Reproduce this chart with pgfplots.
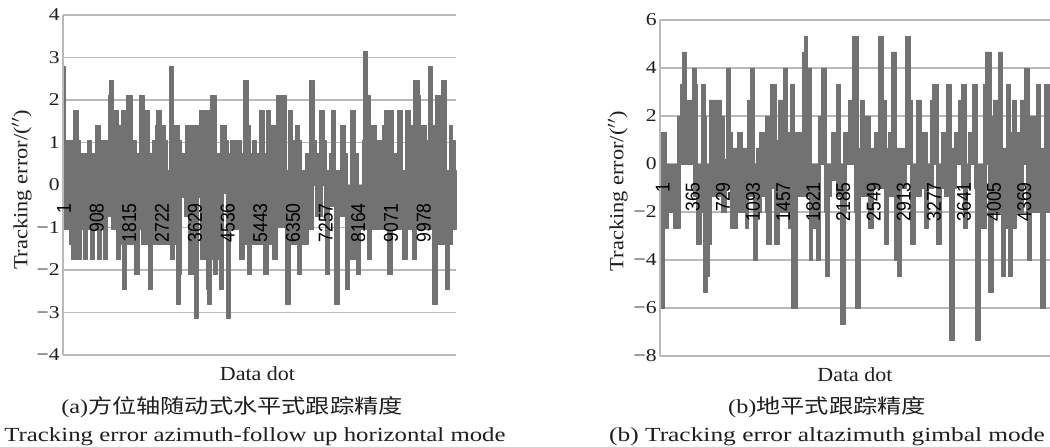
\documentclass[border=0pt]{standalone}
\usepackage{pgfplots}
\pgfplotsset{compat=1.18}
\usepackage{graphicx}
\usepackage{fontspec}
\setmainfont{Liberation Serif}
\newfontfamily\cjk{Noto Sans CJK SC}
\newfontfamily\lblf{Liberation Sans}
\definecolor{dat}{HTML}{727272}
\definecolor{grd}{HTML}{B9B9B9}
\definecolor{txt}{HTML}{1E1E1E}
\newcommand{\yl}[1]{\scalebox{1.2}[1]{#1}}
\newcommand{\xl}[1]{\scalebox{.88}[1]{#1}}
\pgfplotsset{
  panel/.style={
    scale only axis,
    axis y line=left,
    axis x line=middle,
    x axis line style={draw=none,-},
    y axis line style={draw=grd,line width=1.3pt,-},
    ymajorgrids,
    grid style={draw=grd,line width=1.3pt},
    xtick=\empty,
    ytick style={draw=none},
    yticklabel style={font=\fontsize{18}{18}\selectfont,text=txt,inner sep=1pt},
    xlabel style={font=\fontsize{20}{20}\selectfont,text=txt,anchor=center},
    ylabel style={font=\fontsize{20}{20}\selectfont,text=txt,rotate=0},
    xlabel={\scalebox{1.1}[1]{Data dot}},
    ylabel={\scalebox{1.12}[1]{Tracking error/($''$)}},
    clip=false
  },
  overlay/.style={
    scale only axis,
    axis y line=none,
    axis x line=middle,
    x axis line style={draw=none,-},
    xtick style={draw=none},
    ytick=\empty,
    xticklabel style={rotate=90,anchor=east,font=\lblf\fontsize{20}{20}\selectfont,text=black,xshift=-16pt,inner sep=0pt},
    clip=false
  },
  wave/.style={const plot mark left,draw=dat,fill=dat,line width=0.8pt,line join=round,line cap=round}
}
\begin{document}
\begin{tikzpicture}[x=1pt,y=1pt]
\path[use as bounding box] (0,0) rectangle (1050,447);
\begin{axis}[panel,at={(63pt,92pt)},anchor=south west,width=393pt,height=340pt,
  xmin=189,xmax=1368,ymin=-4,ymax=4,
  ytick={-4,-3,-2,-1,0,1,2,3,4},
  yticklabels={\yl{−4},\yl{−3},\yl{−2},\yl{−1},\yl{0},\yl{1},\yl{2},\yl{3},\yl{4}},
  xlabel style={at={(axis description cs:0.495,-0.056)}},
  ylabel style={at={(axis description cs:-0.105,0.485)},anchor=center}]
\addplot[wave] coordinates {(192,2.8)(197,1.05)(220,1.75)(235,1.05)(240,.75)(262,1.05)(275,.75)(285,1.4)(300,1.05)(325,2.1)(328,2.45)(340,1.75)(355,1.4)(360,1.05)(365,1.75)(378,2.1)(397,1.05)(408,.75)(418,2.1)(433,1.75)(447,.75)(457,1.05)(465,1.4)(470,1.75)(483,1.4)(497,1.05)(502,.35)(507,2.8)(520,1.4)(537,1.05)(543,.75)(557,1.4)(597,1.75)(632,2.1)(650,.75)(662,1.4)(680,1.05)(685,.75)(692,1.05)(725,.75)(730,2.45)(746,1.4)(752,.75)(758,1.05)(768,.75)(778,1.75)(793,.75)(798,1.75)(810,1.4)(825,0)(830,2.1)(858,.35)(865,1.75)(876,1.05)(885,1.4)(898,1.05)(903,.35)(915,.75)(928,2.45)(942,1.05)(950,.75)(958,1.75)(973,1.05)(980,.35)(988,.75)(993,1.75)(1006,.35)(1020,1.4)(1035,.75)(1042,0)(1052,1.75)(1067,.75)(1075,0)(1087,1.05)(1090,3.15)(1103,2.1)(1110,0)(1115,1.4)(1130,1.05)(1148,1.4)(1153,1.75)(1180,.75)(1190,.35)(1193,1.75)(1207,.35)(1217,1.75)(1232,1.4)(1240,2.45)(1257,2.1)(1262,1.4)(1280,1.05)(1285,2.8)(1297,1.4)(1307,2.1)(1320,1.4)(1325,2.45)(1340,.35)(1347,1.4)(1357,1.05)(1367,.35)(1368,.35)} \closedcycle;
\addplot[wave] coordinates {(192,-1.05)(208,-1.4)(215,-1.75)(243,-1.05)(250,-1.75)(262,-1.05)(270,-1.75)(283,-1.05)(292,-1.75)(303,-1.05)(310,-1.75)(322,-.75)(333,-1.05)(345,-.75)(348,-1.75)(362,-1.4)(367,-2.45)(380,-1.4)(403,-2.1)(418,-1.05)(425,-1.4)(446,-2.45)(458,-1.4)(510,-1.75)(522,-1.4)(528,-2.8)(541,-2.1)(545,-.3)(552,-.75)(565,-2.1)(582,-3.15)(595,-.3)(600,-1.75)(620,-2.45)(623,-2.8)(635,-1.75)(640,-2.1)(652,-1.75)(658,-2.45)(670,-.2)(680,-3.15)(692,-1.05)(718,-1.75)(732,-1.4)(742,-2.1)(753,-1.4)(790,-2.1)(805,-1.4)(810,0)(814,-1.4)(817,-1.75)(832,-1)(838,0)(842,-1)(855,-2.8)(870,-1.4)(893,-2.1)(905,-1.4)(925,-1.05)(940,0)(945,-.75)(968,0)(972,-.75)(975,-2.1)(988,-.5)(1003,-2.8)(1017,-.75)(1035,-2.45)(1048,-1.75)(1068,-2.1)(1082,-1.05)(1096,0)(1100,-1.05)(1102,-1.75)(1114,-1.05)(1163,-2.1)(1177,-1.05)(1208,-1.75)(1222,-1.05)(1238,-1.75)(1250,-1.05)(1298,-2.8)(1312,-1.4)(1335,-2.45)(1348,-1.4)(1357,-1.05)(1368,-1.05)} \closedcycle;
\end{axis}
\begin{axis}[overlay,at={(63pt,92pt)},anchor=south west,width=393pt,height=340pt,
  xmin=189,xmax=1368,ymin=-4,ymax=4,
  xtick={192,290,388,486,585,683,781,879,977,1075,1173,1271},
  xticklabels={\xl{1},\xl{908},\xl{1815},\xl{2722},\xl{3629},\xl{4536},\xl{5443},\xl{6350},\xl{7257},\xl{8164},\xl{9071},\xl{9978}}]
\end{axis}
\begin{axis}[panel,at={(660pt,91pt)},anchor=south west,width=390pt,height=336pt,
  xmin=210,xmax=1380,ymin=-8,ymax=6,
  ytick={-8,-6,-4,-2,0,2,4,6},
  yticklabels={\yl{−8},\yl{−6},\yl{−4},\yl{−2},\yl{0},\yl{2},\yl{4},\yl{6}},
  xlabel style={at={(axis description cs:0.5,-0.0565)}},
  ylabel style={at={(axis description cs:-0.108,0.49)},anchor=center}]
\addplot[wave] coordinates {(213,1.33)(228,0)(262,2)(272,3.33)(277,4.67)(288,2.67)(307,4)(318,3.33)(322,0)(333,3.33)(345,2)(350,0)(357,2.67)(395,2)(403,.2)(409,4)(420,1.33)(428,.67)(443,1.33)(457,.67)(472,2.67)(480,4)(493,0)(498,.67)(508,1.33)(525,2)(541,3.33)(558,1)(565,2.67)(580,4)(592,1.33)(601,3.33)(612,1.33)(638,4.67)(642,5.33)(652,4)(663,0)(685,2)(695,4)(710,0)(725,1.33)(740,3.33)(750,0)(760,1.33)(775,2.67)(788,5.33)(805,.67)(812,2.67)(823,2)(840,.67)(852,1.33)(865,5.33)(880,2.67)(888,.67)(895,1.33)(905,4.67)(918,.67)(945,5.33)(960,2.67)(968,0)(980,2.67)(993,1.33)(1012,0)(1022,2.67)(1028,3.33)(1045,0)(1055,1.33)(1068,3.33)(1085,.67)(1092,1.33)(1105,2.67)(1113,3.33)(1128,0)(1135,1.33)(1147,3.33)(1162,0)(1180,3.33)(1187,4.67)(1205,2)(1210,2.67)(1225,4.67)(1238,.67)(1248,3.33)(1260,1.33)(1268,2.67)(1280,1.33)(1290,2.67)(1302,4)(1317,2)(1335,.67)(1340,3.33)(1352,.67)(1362,3.33)(1380,3.33)} \closedcycle;
\addplot[wave] coordinates {(213,-6)(222,-2.67)(235,-2)(250,-2.67)(270,0)(310,-1.33)(320,-3.33)(333,-2)(340,-5.33)(352,-4.67)(358,-3.33)(365,-1.33)(395,-2)(408,-1)(422,-2.67)(443,-2)(465,-2.67)(475,-1.33)(490,-4)(503,-2)(515,-1.33)(525,-2)(530,-3.33)(543,-1)(553,-3.33)(567,-2)(595,-2.67)(605,-6)(622,-1.33)(658,-4)(668,-2.67)(680,-4)(692,0)(702,-2)(705,-4.67)(718,-1.33)(725,-.67)(740,-1.33)(750,-6.67)(766,-2)(770,0)(792,-2)(795,-6)(810,-1.33)(835,-2.67)(850,-1)(882,-3.33)(895,-1.33)(912,-4)(922,-4.67)(935,-1)(950,0)(960,-1)(962,-3.33)(975,-1.33)(995,-1)(1002,-2.67)(1015,-1)(1030,0)(1038,-1)(1040,-3.33)(1055,-1)(1063,-1.33)(1077,-7.33)(1093,-1)(1098,0)(1115,-1)(1120,-2.67)(1133,-1)(1140,0)(1152,-1)(1155,-7.33)(1170,-2.67)(1188,0)(1195,-5.33)(1210,-2)(1235,-4.67)(1247,-2.67)(1255,-4.67)(1267,-2.67)(1280,-2)(1300,0)(1308,-2)(1312,-4)(1325,-2)(1352,-6)(1366,-2)(1380,-2)} \closedcycle;
\end{axis}
\begin{axis}[overlay,at={(660pt,91pt)},anchor=south west,width=390pt,height=336pt,
  xmin=210,xmax=1380,ymin=-8,ymax=6,
  xtick={218,308,399,489,580,670,760,851,941,1032,1122,1212,1303},
  xticklabels={\xl{1},\xl{365},\xl{729},\xl{1093},\xl{1457},\xl{1821},\xl{2185},\xl{2549},\xl{2913},\xl{3277},\xl{3641},\xl{4005},\xl{4369}}]
\end{axis}
\node[text=txt,font=\fontsize{20}{20}\selectfont] at (232,40) {\scalebox{1.21}[1]{(a)\cjk 方位轴随动式水平式跟踪精度}};
\node[text=txt,font=\fontsize{20}{20}\selectfont] at (255,10) {\scalebox{1.24}[1]{Tracking error azimuth-follow up horizontal mode}};
\node[text=txt,font=\fontsize{20}{20}\selectfont] at (827,40) {\scalebox{1.21}[1]{(b)\cjk 地平式跟踪精度}};
\node[text=txt,font=\fontsize{20}{20}\selectfont] at (827,10) {\scalebox{1.27}[1]{(b) Tracking error altazimuth gimbal mode}};
\end{tikzpicture}
\end{document}
